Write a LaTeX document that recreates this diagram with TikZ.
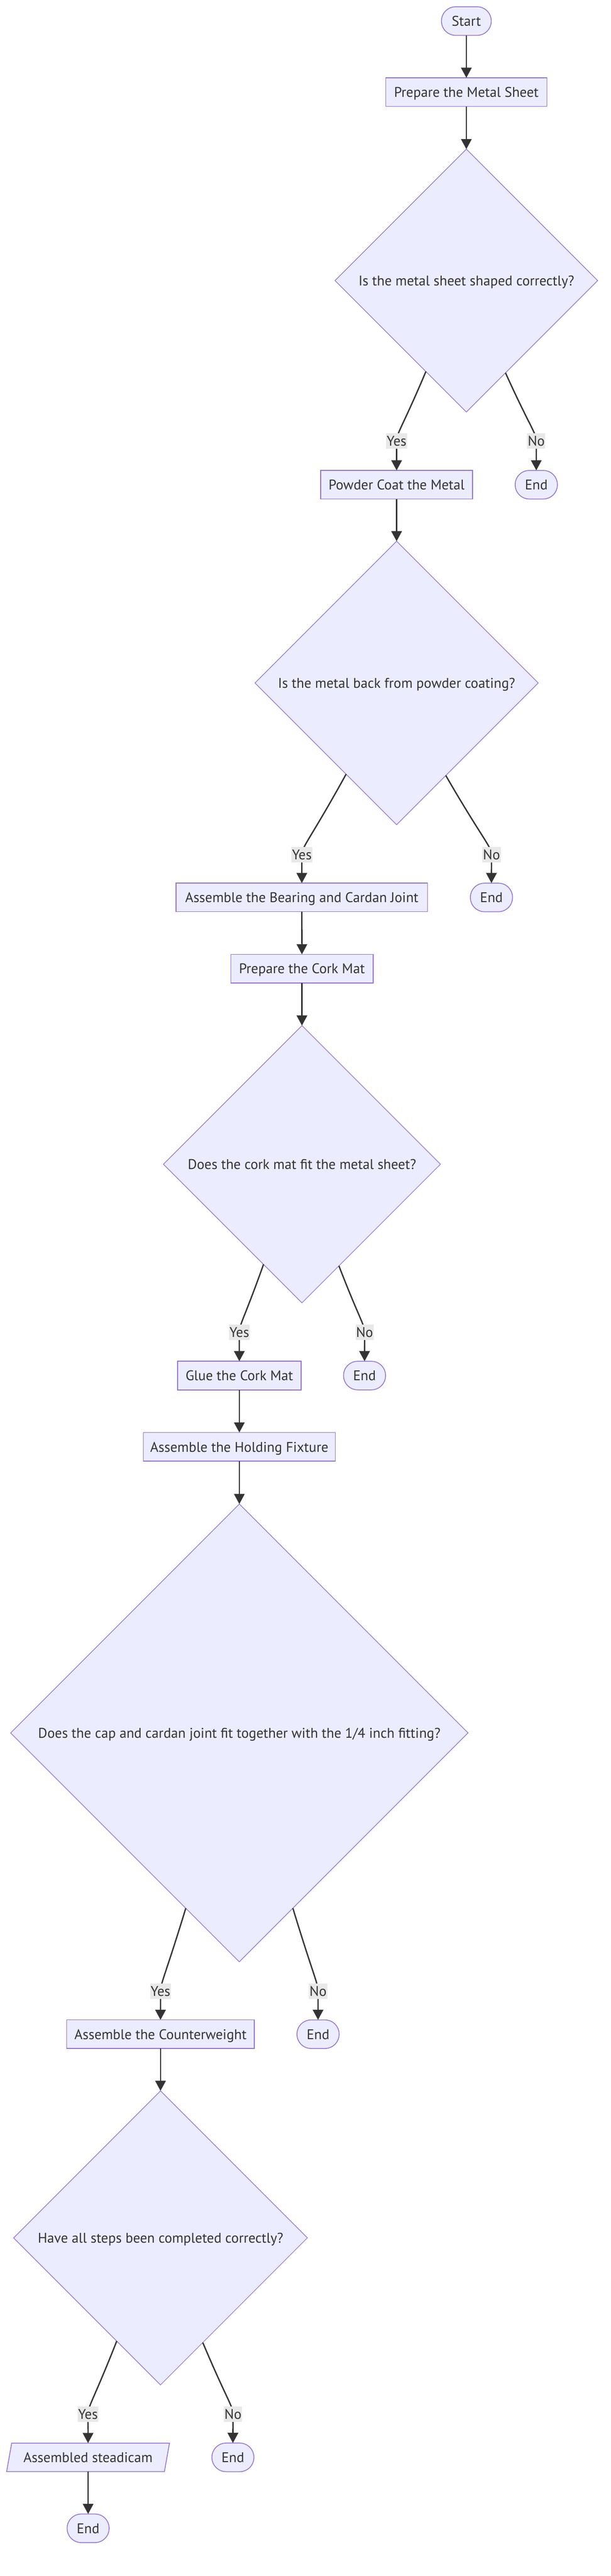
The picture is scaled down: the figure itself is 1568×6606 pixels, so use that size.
\documentclass[tikz,border=0pt]{standalone}
\usepackage{fontspec}
\setmainfont{PT Sans}
\usetikzlibrary{shapes.geometric,arrows.meta,calc}
\definecolor{nodefill}{HTML}{ECECFF}
\definecolor{nodeline}{HTML}{9370DB}
\definecolor{edgecol}{HTML}{333333}
\definecolor{textcol}{HTML}{333333}
\definecolor{labelbg}{HTML}{E8E8E8}
\newcommand\branchedge[3]{\draw[flow] (#1) .. controls ($(#1)!0.8!(#2)$) and ($(#2)+(0,-20)$) .. (#2) .. controls ($(#2)+(0,20)$) and ($(#3)+(0,-30)$) .. (#3);}
\begin{document}
\begin{tikzpicture}[x=1pt,y=-1pt,
  txt/.style={text=textcol, font=\fontsize{36}{43}\selectfont, text height=25.6pt, text depth=0pt},
  base/.style={txt, fill=nodefill, draw=nodeline, line width=2pt, inner xsep=2pt, inner ysep=0pt, outer sep=0pt, minimum height=73.5pt},
  procbox/.style={base, rectangle},
  termbox/.style={base, rectangle, rounded corners=36.5pt},
  iobox/.style={base, trapezium, trapezium left angle=63.1, trapezium right angle=116.9, trapezium stretches body},
  decbox/.style={fill=nodefill, draw=nodeline, line width=1.6pt, diamond, aspect=1, inner sep=0pt, outer sep=0pt, minimum width=#1, minimum height=#1},
  dectext/.style={txt, inner sep=0pt},
  elabel/.style={txt, fill=labelbg, inner xsep=1.5pt, inner ysep=0pt, minimum height=39.5pt},
  flow/.style={draw=edgecol, line width=3.4pt, -{Triangle[length=26pt,width=27pt]}}
]
\fill[white] (0,0) rectangle (1568,6606);
\useasboundingbox (0,0) rectangle (1568,6606);

% nodes
\node[termbox, minimum width=128pt] (start) at (1197,54) {Start};
\node[procbox, minimum width=413pt] (p1) at (1197,236.3) {Prepare the Metal Sheet};
\node[decbox=674pt] (d1) at (1197,719.5) {};
\node[dectext] (d1t) at (d1.center) {Is the metal sheet shaped correctly?};
\node[procbox, minimum width=390pt] (p2) at (1018,1243) {Powder Coat the Metal};
\node[termbox, minimum width=108.6pt] (e1) at (1376.5,1243) {End};
\node[decbox=726.8pt] (d2) at (1018,1751.4) {};
\node[dectext] (d2t) at (d2.center) {Is the metal back from powder coating?};
\node[procbox, minimum width=645.4pt] (p3) at (774.7,2301.4) {Assemble the Bearing and Cardan Joint};
\node[termbox, minimum width=108.4pt] (e2) at (1261.4,2301.4) {End};
\node[procbox, minimum width=365.5pt] (p4) at (775,2484) {Prepare the Cork Mat};
\node[decbox=711pt] (d3) at (775,2985.5) {};
\node[dectext] (d3t) at (d3.center) {Does the cork mat fit the metal sheet?};
\node[procbox, minimum width=317.4pt] (p5) at (614.3,3527.5) {Glue the Cork Mat};
\node[termbox, minimum width=108pt] (e3) at (935.7,3527.5) {End};
\node[procbox, minimum width=492.8pt] (p6) at (614.3,3710.3) {Assemble the Holding Fixture};
\node[decbox=1174pt] (d4) at (614.3,4443.9) {};
\node[dectext] (d4t) at (d4.center) {Does the cap and cardan joint fit together with the 1/4 inch fitting?};
\node[procbox, minimum width=482pt] (p7) at (412,5216.5) {Assemble the Counterweight};
\node[termbox, minimum width=108.4pt] (e4) at (816.3,5216.5) {End};
\node[decbox=754pt] (d5) at (412,5738.8) {};
\node[dectext] (d5t) at (d5.center) {Have all steps been completed correctly?};
\node[iobox, minimum width=418pt, minimum height=73pt] (io) at (226,6301.7) {Assembled steadicam};
\node[termbox, minimum width=108pt] (e5) at (597.8,6301.7) {End};
\node[termbox, minimum width=108pt] (e6) at (226.2,6483.6) {End};

% label positions
\coordinate (y1) at (1018,1130.6);   \coordinate (n1) at (1376.5,1130.6);
\coordinate (y2) at (774.7,2191.3);  \coordinate (n2) at (1261.6,2191.3);
\coordinate (y3) at (614.2,3416.8);  \coordinate (n3) at (935.9,3416.8);
\coordinate (y4) at (412,5106);      \coordinate (n4) at (816.4,5106);
\coordinate (y5) at (225.8,6190.7);  \coordinate (n5) at (598.1,6190.7);

% straight edges
\draw[flow] (start.south) -- (p1.north);
\draw[flow] (p1.south) -- (d1.north);
\draw[flow] (p2.south) -- (d2.north);
\draw[flow] (p3.south) -- (p4.north);
\draw[flow] (p4.south) -- (d3.north);
\draw[flow] (p5.south) -- (p6.north);
\draw[flow] (p6.south) -- (d4.north);
\draw[flow] (p7.south) -- (d5.north);
\draw[flow] (io.south) -- (e6.north);

% branch edges
\branchedge{d1.246.75}{y1}{p2.north}
\branchedge{d1.293.6}{n1}{e1.north}
\branchedge{d2.241.7}{y2}{p3.north}
\branchedge{d2.298.5}{n2}{e2.north}
\branchedge{d3.249.8}{y3}{p5.north}
\branchedge{d3.290.4}{n3}{e3.north}
\branchedge{d4.253.1}{y4}{p7.north}
\branchedge{d4.287}{n4}{e4.north}
\branchedge{d5.247.6}{y5}{io.north}
\branchedge{d5.292.6}{n5}{e5.north}

% edge labels
\node[elabel] (ly1) at (y1) {Yes};
\node[elabel] (ln1) at (n1) {No};
\node[elabel] (ly2) at (y2) {Yes};
\node[elabel] (ln2) at (n2) {No};
\node[elabel] (ly3) at (y3) {Yes};
\node[elabel] (ln3) at (n3) {No};
\node[elabel] (ly4) at (y4) {Yes};
\node[elabel] (ln4) at (n4) {No};
\node[elabel] (ly5) at (y5) {Yes};
\node[elabel] (ln5) at (n5) {No};
\end{tikzpicture}
\end{document}
